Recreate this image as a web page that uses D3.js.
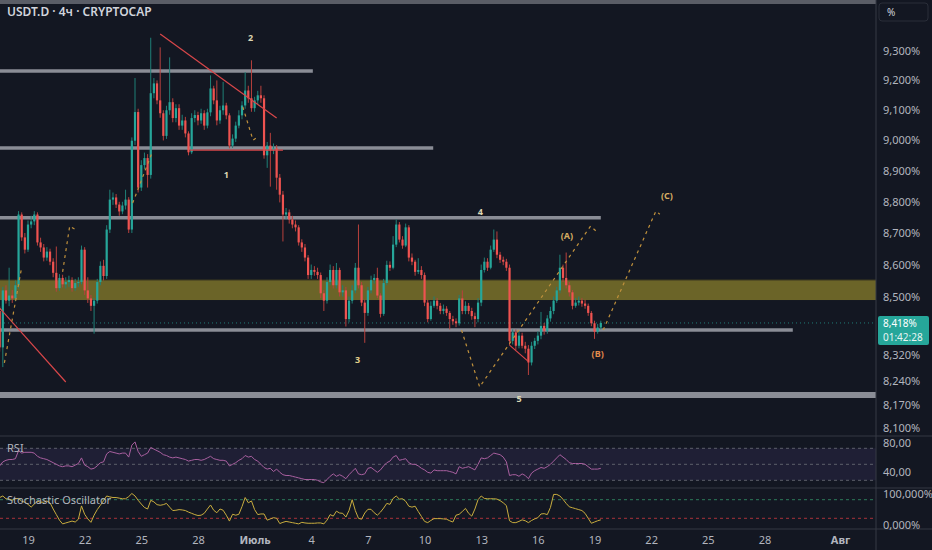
<!DOCTYPE html>
<html>
<head>
<meta charset="utf-8">
<script src="https://cdn.jsdelivr.net/npm/d3@7"></script>
<style>
  body { margin: 0; background: #131722; }
  svg { display: block; }
  text { font-family: "Noto Sans", "DejaVu Sans", sans-serif; }
</style>
</head>
<body>
<div id="chart-area"></div>
<script>
// USDT.D, 4h candles, 17 Jun - 19 Jul
const firstOpen = 8.455
const closes = [
  8.343, 8.519, 8.487, 8.503, 8.494, 8.535, 8.759, 8.686, 8.647, 8.727,
  8.737, 8.759, 8.670, 8.654, 8.622, 8.641, 8.609, 8.574, 8.526, 8.558,
  8.538, 8.545, 8.551, 8.526, 8.542, 8.545, 8.647, 8.519, 8.494, 8.471,
  8.487, 8.545, 8.596, 8.564, 8.711, 8.807, 8.814, 8.791, 8.769, 8.788,
  8.807, 8.711, 8.999, 9.094, 8.846, 8.919, 8.942, 8.887, 9.157, 9.190,
  9.133, 9.090, 9.015, 9.100, 9.127, 9.074, 9.107, 9.049, 9.066, 9.023,
  8.961, 9.074, 9.084, 9.066, 9.090, 9.049, 9.093, 9.173, 9.133, 9.066,
  9.100, 9.116, 9.083, 8.983, 9.006, 9.049, 9.083, 9.116, 9.166, 9.140,
  9.107, 9.133, 9.150, 9.140, 8.951, 8.983, 8.967, 8.974, 8.878, 8.823,
  8.759, 8.766, 8.743, 8.727, 8.718, 8.670, 8.654, 8.622, 8.567, 8.583,
  8.577, 8.567, 8.510, 8.487, 8.545, 8.583, 8.535, 8.583, 8.513, 8.519,
  8.430, 8.487, 8.519, 8.590, 8.535, 8.481, 8.449, 8.519, 8.551, 8.558,
  8.503, 8.446, 8.542, 8.599, 8.590, 8.663, 8.727, 8.679, 8.660, 8.718,
  8.622, 8.609, 8.577, 8.583, 8.567, 8.481, 8.430, 8.471, 8.487, 8.471,
  8.455, 8.462, 8.449, 8.430, 8.423, 8.417, 8.494, 8.455, 8.471, 8.455,
  8.439, 8.430, 8.481, 8.583, 8.609, 8.590, 8.647, 8.679, 8.631, 8.615,
  8.609, 8.590, 8.363, 8.389, 8.348, 8.379, 8.348, 8.339, 8.297, 8.348,
  8.363, 8.379, 8.409, 8.394, 8.432, 8.455, 8.487, 8.519, 8.590, 8.558,
  8.535, 8.513, 8.471, 8.481, 8.487, 8.478, 8.471, 8.449, 8.417, 8.391,
  8.404, 8.418
]
const highs = [
  8.470, 8.530, 8.535, 8.590, 8.520, 8.550, 8.770, 8.766, 8.700, 8.740,
  8.755, 8.770, 8.766, 8.685, 8.665, 8.655, 8.650, 8.620, 8.657, 8.570,
  8.568, 8.560, 8.565, 8.560, 8.555, 8.560, 8.660, 8.655, 8.560, 8.505,
  8.495, 8.555, 8.610, 8.615, 8.725, 8.839, 8.830, 8.825, 8.800, 8.800,
  8.839, 8.815, 9.010, 9.208, 9.105, 8.935, 8.960, 8.955, 9.345, 9.208,
  9.200, 9.312, 9.100, 9.115, 9.278, 9.140, 9.120, 9.120, 9.085, 9.078,
  9.030, 9.090, 9.100, 9.095, 9.105, 9.100, 9.105, 9.217, 9.182, 9.200,
  9.115, 9.195, 9.125, 9.090, 9.020, 9.062, 9.100, 9.130, 9.228, 9.182,
  9.268, 9.145, 9.165, 9.182, 9.150, 8.995, 9.025, 8.990, 8.985, 8.890,
  8.835, 8.780, 8.775, 8.755, 8.740, 8.725, 8.680, 8.665, 8.630, 8.600,
  8.595, 8.590, 8.575, 8.520, 8.560, 8.600, 8.595, 8.605, 8.590, 8.535,
  8.530, 8.500, 8.535, 8.605, 8.727, 8.545, 8.490, 8.530, 8.565, 8.570,
  8.590, 8.510, 8.555, 8.612, 8.610, 8.690, 8.743, 8.735, 8.690, 8.730,
  8.725, 8.635, 8.615, 8.620, 8.595, 8.575, 8.490, 8.485, 8.500, 8.495,
  8.480, 8.475, 8.470, 8.455, 8.440, 8.432, 8.505, 8.519, 8.485, 8.480,
  8.465, 8.450, 8.495, 8.600, 8.622, 8.620, 8.660, 8.711, 8.705, 8.640,
  8.625, 8.618, 8.600, 8.398, 8.398, 8.392, 8.388, 8.360, 8.350, 8.360,
  8.372, 8.392, 8.452, 8.418, 8.442, 8.468, 8.500, 8.530, 8.631, 8.600,
  8.638, 8.545, 8.520, 8.495, 8.500, 8.495, 8.490, 8.478, 8.455, 8.425,
  8.415, 8.425
]
const lows = [
  8.330, 8.283, 8.478, 8.470, 8.480, 8.485, 8.525, 8.675, 8.635, 8.640,
  8.715, 8.725, 8.660, 8.640, 8.610, 8.612, 8.598, 8.560, 8.515, 8.518,
  8.528, 8.525, 8.530, 8.515, 8.518, 8.530, 8.538, 8.505, 8.480, 8.455,
  8.385, 8.478, 8.535, 8.550, 8.555, 8.700, 8.790, 8.780, 8.755, 8.760,
  8.775, 8.700, 8.700, 8.985, 8.830, 8.835, 8.905, 8.846, 8.875, 9.140,
  9.120, 9.075, 9.000, 9.005, 9.085, 9.060, 9.060, 9.035, 9.035, 9.010,
  8.951, 8.955, 9.060, 9.050, 9.055, 9.035, 9.040, 9.080, 9.120, 9.050,
  9.055, 9.085, 9.070, 8.974, 8.975, 8.995, 9.040, 9.070, 9.105, 9.125,
  9.095, 9.095, 9.120, 9.125, 8.940, 8.910, 8.849, 8.955, 8.839, 8.798,
  8.673, 8.745, 8.730, 8.715, 8.705, 8.660, 8.640, 8.610, 8.555, 8.555,
  8.565, 8.555, 8.495, 8.455, 8.478, 8.535, 8.525, 8.525, 8.500, 8.500,
  8.407, 8.420, 8.478, 8.510, 8.525, 8.470, 8.357, 8.440, 8.510, 8.540,
  8.495, 8.435, 8.440, 8.535, 8.580, 8.585, 8.655, 8.670, 8.650, 8.655,
  8.610, 8.598, 8.565, 8.570, 8.555, 8.470, 8.420, 8.425, 8.465, 8.460,
  8.445, 8.445, 8.440, 8.398, 8.412, 8.405, 8.410, 8.445, 8.445, 8.445,
  8.428, 8.405, 8.420, 8.470, 8.575, 8.580, 8.585, 8.640, 8.620, 8.605,
  8.598, 8.580, 8.350, 8.352, 8.335, 8.340, 8.340, 8.325, 8.259, 8.288,
  8.338, 8.352, 8.368, 8.382, 8.385, 8.422, 8.445, 8.480, 8.510, 8.545,
  8.525, 8.500, 8.460, 8.465, 8.472, 8.468, 8.462, 8.440, 8.408, 8.369,
  8.385, 8.398
]
const rsi = [
  48, 53, 55, 56, 56, 57, 67, 64, 65, 65,
  65, 64, 60, 58, 57, 56, 54, 52, 50, 48,
  47, 48, 48, 47, 49, 51, 58, 49, 47, 44,
  45, 48, 52, 53, 63, 66, 65, 64, 63, 64,
  64, 59, 74, 78, 66, 60, 62, 64, 71, 69,
  67, 65, 62, 61, 59, 58, 59, 58, 57, 56,
  54, 55, 56, 56, 55, 56, 58, 60, 57, 56,
  55, 55, 54, 48, 50, 52, 55, 57, 61, 59,
  60, 56, 54, 50, 46, 44, 45, 41, 44, 40,
  37, 36, 36, 35, 34, 33, 32, 31, 31, 31,
  31, 30, 28, 27, 31, 35, 38, 35, 37, 35,
  32, 37, 41, 45, 38, 37, 38, 45, 46, 43,
  40, 43, 48, 52, 54, 59, 61, 55, 56, 57,
  52, 50, 50, 48, 45, 43, 40, 39, 43, 42,
  42, 42, 42, 41, 40, 38, 47, 45, 46, 47,
  45, 43, 50, 58, 57, 58, 61, 64, 63, 62,
  59, 53, 36, 37, 37, 35, 38, 36, 32, 39,
  42, 44, 46, 45, 47, 50, 54, 58, 62, 59,
  56, 52, 51, 51, 51, 51, 50, 47, 44, 44,
  44, 45
]
const stoch = [
  87, 92, 83, 82, 78, 83, 84, 75, 72, 65,
  56, 66, 75, 72, 72, 76, 70, 50, 32, 14,
  2, 5, 8, 11, 8, 17, 60, 33, 18, 7,
  30, 48, 62, 77, 92, 89, 87, 87, 85, 83,
  83, 90, 100, 92, 78, 66, 55, 50, 78, 73,
  64, 62, 64, 68, 56, 45, 46, 48, 47, 45,
  40, 36, 32, 29, 30, 36, 50, 63, 46, 38,
  50, 46, 30, 11, 33, 30, 33, 58, 87, 70,
  76, 48, 32, 34, 34, 14, 18, 22, 20, 3,
  7, 10, 8, 6, 4, 2, 7, 5, 4, 4,
  4, 5, 5, 2, 14, 32, 27, 43, 37, 36,
  24, 45, 80, 45, 20, 17, 37, 49, 49, 38,
  30, 40, 53, 68, 65, 84, 92, 82, 83, 75,
  59, 56, 59, 42, 26, 10, 6, 13, 19, 19,
  19, 18, 17, 12, 8, 30, 33, 42, 52, 36,
  27, 50, 80, 92, 84, 83, 83, 83, 82, 77,
  70, 61, 12, 6, 6, 10, 15, 12, 6, 13,
  18, 22, 34, 35, 32, 55, 97, 97, 92, 81,
  68, 57, 54, 51, 48, 45, 36, 20, 4, 8,
  12, 15
]
const lastPrice = 8.418
const priceTicks = [9.3, 9.2, 9.1, 9.0, 8.9, 8.8, 8.7, 8.6, 8.5, 8.32, 8.24, 8.17, 8.1]
const rsiTicks = [80, 40]
const stochTicks = [100, 0]
const tickDates = [
  new Date(2025, 5, 19), new Date(2025, 5, 22), new Date(2025, 5, 25), new Date(2025, 5, 28),
  new Date(2025, 6, 1), new Date(2025, 6, 4), new Date(2025, 6, 7), new Date(2025, 6, 10),
  new Date(2025, 6, 13), new Date(2025, 6, 16), new Date(2025, 6, 19), new Date(2025, 6, 22),
  new Date(2025, 6, 25), new Date(2025, 6, 28), new Date(2025, 7, 1)
]
const tickLabels = ["19", "22", "25", "28", "Июль", "4", "7", "10", "13", "16", "19", "22", "25", "28", "Авг"]

const W = 932, H = 550
const PLOT_R = 876
const MAIN = {TOP: 5, BOTTOM: 436}
const start = new Date(2025, 5, 17, 12)
const UP = "#26a69a", DOWN = "#ef5350"

const svg = d3.select("#chart-area").append("svg")
    .attr("width", W)
    .attr("height", H)
svg.append("rect").attr("width", W).attr("height", H).attr("fill", "#131722")

const x = d3.scaleTime()
    .domain([new Date(2025, 5, 19), new Date(2025, 7, 1)])
    .range([28, 840])
const y = d3.scaleLog().domain([8.1, 9.3]).range([428.1, 50.9])
const yRsi = d3.scaleLinear().domain([30, 70]).range([480.3, 448.3])
const ySto = d3.scaleLinear().domain([0, 100]).range([524.5, 493.5])

const data = closes.map((c, i) => {
    const o = i === 0 ? firstOpen : closes[i - 1]
    return {t: d3.timeHour.offset(start, 4 * i), o, c,
        h: Math.max(highs[i], o, c), l: Math.min(lows[i], o, c), rsi: rsi[i], sto: stoch[i]}
})

const defs = svg.append("defs")
defs.append("clipPath").attr("id", "clip-main")
    .append("rect").attr("x", 0).attr("y", MAIN.TOP).attr("width", PLOT_R).attr("height", MAIN.BOTTOM - MAIN.TOP)
defs.append("clipPath").attr("id", "clip-all")
    .append("rect").attr("x", 0).attr("y", 0).attr("width", PLOT_R).attr("height", 530)
defs.append("clipPath").attr("id", "clip-rsi-axis")
    .append("rect").attr("x", PLOT_R).attr("y", 437).attr("width", W - PLOT_R).attr("height", 50)

// top strip
svg.append("rect").attr("x", 0).attr("y", 0).attr("width", PLOT_R).attr("height", 4).attr("fill", "#5a5d66")

const main = svg.append("g").attr("clip-path", "url(#clip-main)")

// zone + levels
main.append("rect")
    .attr("x", 0).attr("width", PLOT_R)
    .attr("y", y(8.551)).attr("height", y(8.489) - y(8.551))
    .attr("fill", "#6b6428")
main.append("line")
    .attr("x1", 0).attr("x2", PLOT_R).attr("y1", y(8.551)).attr("y2", y(8.551))
    .attr("stroke", "#4f4a22").attr("stroke-width", 1)

const levels = [
    {p: 9.232, end: new Date(2025, 6, 4, 2), w: 3.5},
    {p: 8.975, end: new Date(2025, 6, 10, 11), w: 3.5},
    {p: 8.749, end: new Date(2025, 6, 19, 8), w: 3.5},
    {p: 8.396, end: new Date(2025, 6, 29, 12), w: 3.5},
    {p: 8.199, end: new Date(2025, 7, 10), w: 6}
]
main.selectAll(".level").data(levels).enter().append("line")
    .attr("class", "level")
    .attr("x1", 0).attr("x2", d => x(d.end))
    .attr("y1", d => y(d.p)).attr("y2", d => y(d.p))
    .attr("stroke", "#8a8d96")
    .attr("stroke-width", d => d.w)

// last price line
main.append("line")
    .attr("x1", 0).attr("x2", PLOT_R).attr("y1", y(lastPrice)).attr("y2", y(lastPrice))
    .attr("stroke", UP).attr("stroke-opacity", 0.7).attr("stroke-dasharray", "1,3")

// candles
const cw = 2.2
const candle = main.selectAll(".candle").data(data).enter().append("g").attr("class", "candle")
candle.append("line")
    .attr("x1", d => x(d.t)).attr("x2", d => x(d.t))
    .attr("y1", d => y(d.h)).attr("y2", d => y(d.l))
    .attr("stroke", d => d.c >= d.o ? "#1f8077" : "#b8403d")
    .attr("stroke-width", 1)
candle.append("rect")
    .attr("x", d => x(d.t) - cw / 2)
    .attr("width", cw)
    .attr("y", d => y(Math.max(d.o, d.c)))
    .attr("height", d => Math.max(1, Math.abs(y(d.o) - y(d.c))))
    .attr("fill", d => d.c >= d.o ? UP : DOWN)

// drawings
const line = d3.line().x(d => x(d[0])).y(d => y(d[1]))
const redLines = [
    [[new Date(2025, 5, 26, 0), 9.358], [new Date(2025, 6, 2, 4), 9.074]],
    [[new Date(2025, 5, 27, 14), 8.968], [new Date(2025, 6, 2, 12), 8.968]],
    [[new Date(2025, 5, 17, 12), 8.464], [new Date(2025, 5, 21, 0), 8.238]],
    [[new Date(2025, 6, 14, 12), 8.350], [new Date(2025, 6, 15, 11), 8.302]]
]
main.selectAll(".red").data(redLines).enter().append("path")
    .attr("d", line).attr("fill", "none")
    .attr("stroke", "#d9474a").attr("stroke-width", 1.2)

const wavePaths = [
    [[new Date(2025, 5, 17, 18), 8.296], [new Date(2025, 5, 18, 16), 8.592]],
    [[new Date(2025, 5, 20, 20), 8.577], [new Date(2025, 5, 21, 5), 8.722], [new Date(2025, 5, 21, 12), 8.711]],
    [[new Date(2025, 5, 24, 13), 8.796], [new Date(2025, 5, 25, 14), 8.962]],
    [[new Date(2025, 5, 30, 9), 9.111], [new Date(2025, 5, 30, 22), 9.001], [new Date(2025, 6, 1, 4), 9.011]],
    [[new Date(2025, 6, 11, 23), 8.396], [new Date(2025, 6, 12, 22), 8.223],
     [new Date(2025, 6, 18, 19), 8.722], [new Date(2025, 6, 19, 2), 8.706]],
    [[new Date(2025, 6, 19, 11), 8.396], [new Date(2025, 6, 22, 6), 8.770], [new Date(2025, 6, 22, 11), 8.760]]
]
main.selectAll(".wave").data(wavePaths).enter().append("path")
    .attr("d", line).attr("fill", "none")
    .attr("stroke", "#c0913c").attr("stroke-width", 1.2)
    .attr("stroke-dasharray", "3,4")

const waveLabels = [
    {t: new Date(2025, 5, 30, 19), p: 9.344, s: "2", c: "#ddd6b4"},
    {t: new Date(2025, 5, 29, 12), p: 8.887, s: "1", c: "#ddd6b4"},
    {t: new Date(2025, 6, 12, 23), p: 8.767, s: "4", c: "#ddd6b4"},
    {t: new Date(2025, 6, 6, 11), p: 8.305, s: "3", c: "#e2cf8a"},
    {t: new Date(2025, 6, 15, 0), p: 8.188, s: "5", c: "#ddd6b4"},
    {t: new Date(2025, 6, 17, 13), p: 8.692, s: "(A)", c: "#d7ad62"},
    {t: new Date(2025, 6, 19, 4), p: 8.322, s: "(B)", c: "#e08a4c"},
    {t: new Date(2025, 6, 22, 20), p: 8.820, s: "(C)", c: "#d7ad62"}
]
main.selectAll(".wlabel").data(waveLabels).enter().append("text")
    .attr("x", d => x(d.t)).attr("y", d => y(d.p))
    .attr("dy", "0.35em")
    .attr("text-anchor", "middle")
    .attr("font-size", "9px").attr("font-weight", "bold")
    .attr("fill", d => d.c)
    .text(d => d.s)

// header
svg.append("text")
    .attr("x", 7).attr("y", 16)
    .attr("font-size", "12px").attr("font-weight", 600)
    .attr("fill", "#d1d4dc")
    .text("USDT.D · 4ч · CRYPTOCAP")

// RSI pane
const lower = svg.append("g").attr("clip-path", "url(#clip-all)")
lower.append("rect")
    .attr("x", 0).attr("width", PLOT_R)
    .attr("y", yRsi(70)).attr("height", yRsi(30) - yRsi(70))
    .attr("fill", "#7e57c2").attr("fill-opacity", 0.12)
lower.selectAll(".rsil").data([70, 50, 30]).enter().append("line")
    .attr("x1", 0).attr("x2", PLOT_R)
    .attr("y1", d => yRsi(d)).attr("y2", d => yRsi(d))
    .attr("stroke", "#5d606b").attr("stroke-dasharray", "3,3")
lower.append("path").datum(data)
    .attr("fill", "none").attr("stroke", "#a85f9f").attr("stroke-width", 1)
    .attr("d", d3.line().x(d => x(d.t)).y(d => yRsi(d.rsi)))
svg.append("text").attr("x", 7).attr("y", 452)
    .attr("font-size", "11px").attr("fill", "#b2b5be").text("RSI")

// Stochastic pane
lower.append("line")
    .attr("x1", 0).attr("x2", PLOT_R).attr("y1", ySto(80)).attr("y2", ySto(80))
    .attr("stroke", "#2d7a5a").attr("stroke-dasharray", "3,3")
lower.append("line")
    .attr("x1", 0).attr("x2", PLOT_R).attr("y1", ySto(20)).attr("y2", ySto(20))
    .attr("stroke", "#a8323b").attr("stroke-dasharray", "3,3")
lower.append("path").datum(data)
    .attr("fill", "none").attr("stroke", "#c9ad3e").attr("stroke-width", 1)
    .attr("d", d3.line().x(d => x(d.t)).y(d => ySto(d.sto)))
svg.append("text").attr("x", 7).attr("y", 504)
    .attr("font-size", "11px").attr("fill", "#b2b5be").text("Stochastic Oscillator")

// separators
svg.selectAll(".sep").data([436, 488, 529]).enter().append("line")
    .attr("x1", 0).attr("x2", W).attr("y1", d => d).attr("y2", d => d)
    .attr("stroke", "#2a2e39").attr("stroke-width", 1.5)
svg.append("line")
    .attr("x1", PLOT_R).attr("x2", PLOT_R).attr("y1", 0).attr("y2", H)
    .attr("stroke", "#363a45")

// axes
const fmt3 = d => d3.format(".3f")(d).replace(".", ",") + "%"
const styleAxis = g => {
    g.select(".domain").remove()
    g.selectAll("text").attr("fill", "#b2b5be").attr("font-size", "11px")
        .attr("font-family", "\"Noto Sans\", \"DejaVu Sans\", sans-serif")
}
svg.append("g").attr("transform", `translate(${PLOT_R},0)`)
    .call(d3.axisRight(y).tickValues(priceTicks).tickFormat(fmt3).tickSize(0).tickPadding(7))
    .call(styleAxis)
const rsiAxis = svg.append("g").attr("clip-path", "url(#clip-rsi-axis)")
    .append("g").attr("transform", `translate(${PLOT_R},0)`)
    .call(d3.axisRight(yRsi).tickValues(rsiTicks).tickFormat(d => d3.format(".2f")(d).replace(".", ",")).tickSize(0).tickPadding(7))
    .call(styleAxis)
// top label sits half under the pane border, as in the source
rsiAxis.selectAll("text").filter(d => d === 80).attr("transform", "translate(0,3)")
svg.append("g").attr("transform", `translate(${PLOT_R},0)`)
    .call(d3.axisRight(ySto).tickValues(stochTicks).tickFormat(fmt3).tickSize(0).tickPadding(7))
    .call(styleAxis)

const xAxis = svg.append("g").attr("transform", "translate(0,533)")
    .call(d3.axisBottom(x).tickValues(tickDates).tickFormat((d, i) => tickLabels[i]).tickSize(0).tickPadding(3))
    .call(styleAxis)
xAxis.selectAll("text").filter((d, i) => isNaN(+tickLabels[i])).attr("font-weight", "bold")

// last price tag
const tag = svg.append("g").attr("transform", `translate(${PLOT_R + 2},${y(lastPrice) - 7})`)
tag.append("rect").attr("width", 51).attr("height", 29).attr("rx", 2).attr("fill", UP)
tag.append("text").attr("x", 5).attr("y", 11).attr("font-size", "10px").attr("fill", "#ffffff").text(fmt3(lastPrice))
tag.append("text").attr("x", 5).attr("y", 25).attr("font-size", "10px").attr("fill", "#e8f5f3").text("01:42:28")

// unit button
svg.append("rect").attr("x", 879).attr("y", 3).attr("width", 49).attr("height", 18).attr("rx", 3)
    .attr("fill", "#131722").attr("stroke", "#2a2e39")
svg.append("text").attr("x", 887).attr("y", 16).attr("font-size", "10px").attr("fill", "#d1d4dc").text("%")
</script>
</body>
</html>
